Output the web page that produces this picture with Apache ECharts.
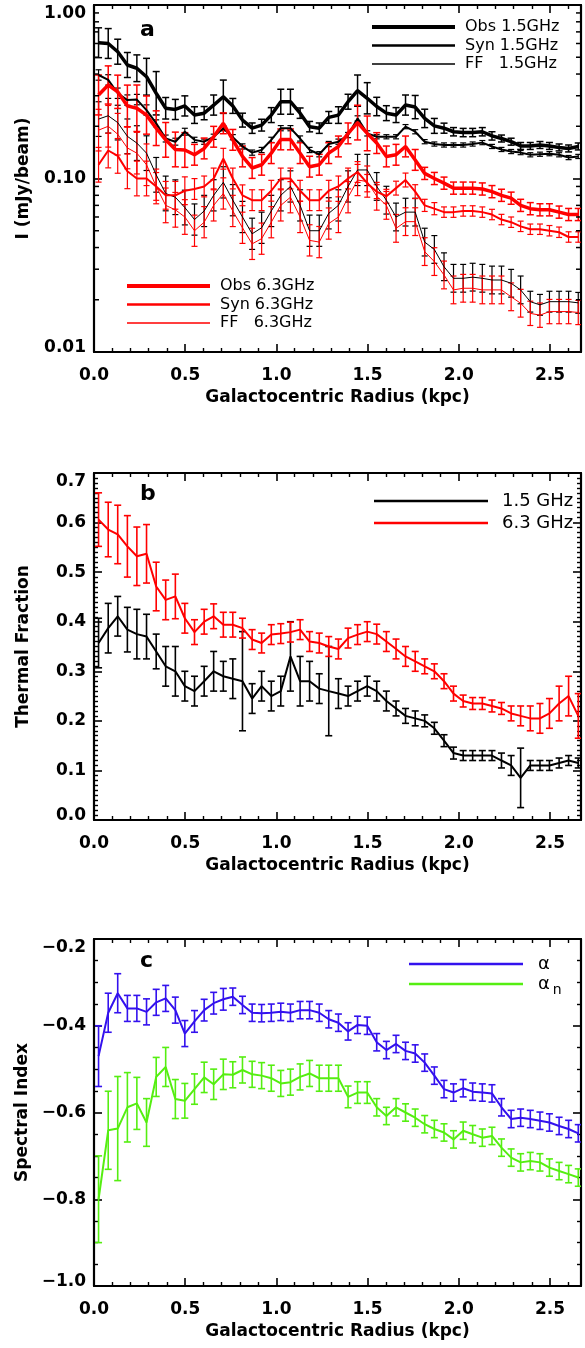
<!DOCTYPE html>
<html>
<head>
<meta charset="utf-8">
<title>Radial profiles</title>
<script src="https://cdn.jsdelivr.net/npm/echarts@6.0.0/dist/echarts.min.js"></script>
<style>
  html, body { margin: 0; padding: 0; background: #fff; }
  #chart { width: 585px; height: 1348px; }
</style>
</head>
<body>
<div id="chart"></div>
<script>
// galactocentric radius of each ring (kpc)
const radius = [0.025, 0.078, 0.130, 0.183, 0.235, 0.288, 0.341, 0.393, 0.446, 0.498,
  0.551, 0.604, 0.656, 0.709, 0.761, 0.814, 0.867, 0.919, 0.972, 1.024,
  1.077, 1.130, 1.182, 1.235, 1.287, 1.340, 1.393, 1.445, 1.498, 1.550,
  1.603, 1.656, 1.708, 1.761, 1.813, 1.866, 1.919, 1.971, 2.024, 2.076,
  2.129, 2.182, 2.234, 2.287, 2.339, 2.392, 2.445, 2.497, 2.550, 2.602, 2.655];

// panel a: intensities (mJy/beam)
const obs15 = [0.606, 0.600, 0.538, 0.451, 0.432, 0.386, 0.310, 0.254, 0.250, 0.262,
  0.232, 0.238, 0.265, 0.296, 0.262, 0.217, 0.195, 0.203, 0.232, 0.277,
  0.277, 0.238, 0.199, 0.195, 0.225, 0.232, 0.277, 0.321, 0.290, 0.260,
  0.238, 0.232, 0.265, 0.258, 0.222, 0.201, 0.195, 0.186, 0.184, 0.184,
  0.186, 0.176, 0.170, 0.163, 0.154, 0.154, 0.156, 0.154, 0.151, 0.149, 0.153];
const syn15 = [0.395, 0.370, 0.310, 0.283, 0.285, 0.248, 0.208, 0.170, 0.163, 0.186,
  0.167, 0.163, 0.174, 0.195, 0.173, 0.153, 0.141, 0.146, 0.167, 0.195,
  0.195, 0.170, 0.146, 0.138, 0.158, 0.163, 0.178, 0.222, 0.182, 0.174,
  0.174, 0.174, 0.199, 0.186, 0.163, 0.158, 0.156, 0.156, 0.156, 0.158,
  0.161, 0.153, 0.147, 0.143, 0.141, 0.137, 0.138, 0.139, 0.137, 0.132, 0.134];
const ff15 = [0.220, 0.230, 0.210, 0.175, 0.160, 0.140, 0.105, 0.082, 0.078, 0.068,
  0.058, 0.065, 0.080, 0.095, 0.075, 0.060, 0.048, 0.052, 0.065, 0.080,
  0.090, 0.070, 0.050, 0.050, 0.063, 0.070, 0.090, 0.112, 0.112, 0.090,
  0.075, 0.060, 0.064, 0.064, 0.043, 0.039, 0.031, 0.0266, 0.0266, 0.027,
  0.0266, 0.026, 0.026, 0.0249, 0.0228, 0.0195, 0.0187, 0.0195, 0.0195, 0.0195, 0.0192];
const obs63 = [0.303, 0.346, 0.316, 0.262, 0.254, 0.232, 0.195, 0.167, 0.147, 0.146,
  0.137, 0.149, 0.174, 0.208, 0.167, 0.134, 0.115, 0.120, 0.140, 0.168,
  0.168, 0.140, 0.117, 0.120, 0.140, 0.153, 0.182, 0.210, 0.182, 0.160,
  0.134, 0.137, 0.153, 0.128, 0.107, 0.100, 0.094, 0.088, 0.088, 0.088,
  0.087, 0.084, 0.080, 0.077, 0.070, 0.067, 0.066, 0.066, 0.064, 0.062, 0.062];
const syn63 = [0.120, 0.145, 0.135, 0.110, 0.100, 0.100, 0.090, 0.080, 0.080, 0.085,
  0.087, 0.090, 0.100, 0.130, 0.100, 0.080, 0.075, 0.075, 0.085, 0.100,
  0.100, 0.085, 0.075, 0.075, 0.085, 0.090, 0.100, 0.109, 0.094, 0.084,
  0.079, 0.088, 0.098, 0.084, 0.070, 0.067, 0.064, 0.064, 0.065, 0.065,
  0.064, 0.062, 0.058, 0.056, 0.053, 0.051, 0.051, 0.050, 0.049, 0.046, 0.046];
const ff63 = [0.190, 0.200, 0.180, 0.150, 0.140, 0.120, 0.090, 0.070, 0.066, 0.060,
  0.050, 0.056, 0.070, 0.082, 0.065, 0.052, 0.042, 0.045, 0.056, 0.070,
  0.078, 0.060, 0.044, 0.043, 0.055, 0.060, 0.078, 0.098, 0.096, 0.079,
  0.070, 0.0516, 0.0564, 0.0564, 0.0379, 0.0332, 0.0278, 0.0228, 0.0233, 0.0233,
  0.0228, 0.0228, 0.0228, 0.0208, 0.0191, 0.0167, 0.0163, 0.0171, 0.0171, 0.0171, 0.0169];
// panel a error bars, half width in dex
const obs15Err = [0.086, 0.086, 0.072, 0.072, 0.077, 0.106, 0.125, 0.062, 0.058, 0.058,
  0.048, 0.038, 0.058, 0.096, 0.043, 0.040, 0.030, 0.034, 0.043, 0.072,
  0.072, 0.030, 0.030, 0.030, 0.034, 0.048, 0.043, 0.090, 0.090, 0.053,
  0.043, 0.043, 0.058, 0.067, 0.053, 0.043, 0.029, 0.024, 0.024, 0.024,
  0.024, 0.024, 0.020, 0.020, 0.020, 0.020, 0.020, 0.020, 0.020, 0.020, 0.020];
const syn15Err = [0.030, 0.030, 0.030, 0.030, 0.030, 0.030, 0.020, 0.020, 0.020, 0.020,
  0.015, 0.015, 0.015, 0.015, 0.015, 0.015, 0.015, 0.015, 0.015, 0.015,
  0.015, 0.015, 0.015, 0.015, 0.015, 0.015, 0.015, 0.015, 0.015, 0.012,
  0.012, 0.012, 0.012, 0.012, 0.012, 0.012, 0.012, 0.012, 0.012, 0.012,
  0.012, 0.012, 0.012, 0.012, 0.012, 0.012, 0.012, 0.012, 0.012, 0.012, 0.012];
const ff15Err = [0.10, 0.10, 0.10, 0.10, 0.10, 0.10, 0.10, 0.10, 0.10, 0.10,
  0.09, 0.09, 0.09, 0.09, 0.09, 0.09, 0.09, 0.09, 0.09, 0.09,
  0.09, 0.09, 0.09, 0.09, 0.09, 0.09, 0.09, 0.09, 0.09, 0.08,
  0.08, 0.08, 0.08, 0.08, 0.08, 0.08, 0.08, 0.08, 0.08, 0.08,
  0.08, 0.08, 0.08, 0.08, 0.08, 0.06, 0.06, 0.06, 0.06, 0.06, 0.06];
const obs63Err = [0.115, 0.110, 0.096, 0.120, 0.134, 0.110, 0.100, 0.100, 0.100, 0.100,
  0.060, 0.060, 0.060, 0.060, 0.060, 0.060, 0.060, 0.060, 0.060, 0.060,
  0.060, 0.060, 0.060, 0.060, 0.060, 0.060, 0.060, 0.100, 0.100, 0.060,
  0.060, 0.060, 0.060, 0.060, 0.035, 0.035, 0.035, 0.035, 0.035, 0.035,
  0.035, 0.035, 0.035, 0.035, 0.035, 0.035, 0.035, 0.035, 0.035, 0.035, 0.035];
const syn63Err = [0.10, 0.10, 0.10, 0.10, 0.10, 0.10, 0.08, 0.08, 0.08, 0.08,
  0.06, 0.06, 0.06, 0.06, 0.06, 0.06, 0.06, 0.06, 0.06, 0.06,
  0.06, 0.06, 0.06, 0.06, 0.06, 0.06, 0.06, 0.06, 0.05, 0.04,
  0.04, 0.04, 0.04, 0.04, 0.035, 0.035, 0.03, 0.03, 0.03, 0.03,
  0.03, 0.03, 0.03, 0.03, 0.03, 0.03, 0.03, 0.03, 0.03, 0.03, 0.03];
const ff63Err = [0.12, 0.12, 0.12, 0.12, 0.12, 0.12, 0.10, 0.10, 0.10, 0.10,
  0.09, 0.09, 0.09, 0.09, 0.09, 0.09, 0.09, 0.09, 0.09, 0.09,
  0.09, 0.09, 0.09, 0.09, 0.09, 0.09, 0.09, 0.09, 0.09, 0.08,
  0.08, 0.08, 0.08, 0.08, 0.08, 0.08, 0.08, 0.08, 0.08, 0.08,
  0.08, 0.08, 0.08, 0.08, 0.08, 0.07, 0.07, 0.07, 0.07, 0.07, 0.07];

// panel b: thermal fraction
const tf15 = [0.357, 0.387, 0.411, 0.384, 0.375, 0.370, 0.340, 0.310, 0.300, 0.270,
  0.260, 0.280, 0.300, 0.290, 0.285, 0.280, 0.245, 0.270, 0.250, 0.260,
  0.330, 0.280, 0.280, 0.265, 0.260, 0.255, 0.250, 0.260, 0.270, 0.260,
  0.240, 0.225, 0.210, 0.205, 0.200, 0.185, 0.160, 0.135, 0.130, 0.130,
  0.130, 0.130, 0.120, 0.110, 0.085, 0.110, 0.110, 0.110, 0.115, 0.120, 0.115];
const tf63 = [0.606, 0.586, 0.576, 0.552, 0.532, 0.537, 0.471, 0.444, 0.451, 0.407,
  0.379, 0.400, 0.411, 0.394, 0.394, 0.387, 0.364, 0.357, 0.374, 0.376,
  0.379, 0.384, 0.360, 0.357, 0.350, 0.345, 0.367, 0.374, 0.380, 0.375,
  0.360, 0.345, 0.330, 0.320, 0.310, 0.300, 0.280, 0.255, 0.240, 0.235,
  0.235, 0.230, 0.225, 0.215, 0.210, 0.205, 0.205, 0.215, 0.235, 0.250, 0.210];
const tf15Err = [0.050, 0.050, 0.040, 0.045, 0.050, 0.045, 0.035, 0.040, 0.050, 0.030,
  0.030, 0.030, 0.040, 0.030, 0.040, 0.100, 0.030, 0.030, 0.030, 0.030,
  0.070, 0.050, 0.040, 0.030, 0.090, 0.030, 0.020, 0.020, 0.020, 0.020,
  0.020, 0.015, 0.015, 0.015, 0.012, 0.012, 0.012, 0.012, 0.010, 0.010,
  0.010, 0.010, 0.015, 0.020, 0.060, 0.010, 0.010, 0.010, 0.010, 0.010, 0.010];
const tf63Err = [0.054, 0.055, 0.059, 0.062, 0.059, 0.059, 0.049, 0.040, 0.045, 0.030,
  0.025, 0.025, 0.025, 0.025, 0.025, 0.020, 0.020, 0.020, 0.020, 0.020,
  0.020, 0.020, 0.020, 0.020, 0.020, 0.020, 0.020, 0.020, 0.020, 0.020,
  0.020, 0.020, 0.020, 0.020, 0.015, 0.015, 0.015, 0.015, 0.012, 0.012,
  0.012, 0.012, 0.012, 0.015, 0.020, 0.025, 0.030, 0.030, 0.035, 0.040, 0.045];

// panel c: spectral index
const alpha = [-0.470, -0.370, -0.325, -0.360, -0.360, -0.368, -0.346, -0.337, -0.364, -0.418,
  -0.390, -0.364, -0.348, -0.339, -0.333, -0.352, -0.370, -0.371, -0.370, -0.368,
  -0.370, -0.364, -0.364, -0.370, -0.385, -0.393, -0.413, -0.398, -0.400, -0.438,
  -0.456, -0.442, -0.458, -0.464, -0.485, -0.515, -0.546, -0.554, -0.544, -0.552,
  -0.554, -0.556, -0.588, -0.615, -0.612, -0.615, -0.619, -0.623, -0.631, -0.638, -0.648];
const alphaN = [-0.800, -0.641, -0.637, -0.588, -0.579, -0.623, -0.518, -0.495, -0.569, -0.573,
  -0.546, -0.519, -0.535, -0.512, -0.513, -0.502, -0.512, -0.515, -0.521, -0.533,
  -0.530, -0.518, -0.510, -0.521, -0.521, -0.521, -0.564, -0.554, -0.554, -0.588,
  -0.608, -0.588, -0.600, -0.612, -0.627, -0.638, -0.646, -0.662, -0.642, -0.650,
  -0.658, -0.654, -0.681, -0.704, -0.715, -0.712, -0.715, -0.727, -0.735, -0.742, -0.750];
const alphaErr = [0.070, 0.045, 0.045, 0.030, 0.030, 0.030, 0.030, 0.030, 0.030, 0.030,
  0.025, 0.025, 0.025, 0.025, 0.020, 0.020, 0.020, 0.020, 0.020, 0.020,
  0.020, 0.020, 0.020, 0.020, 0.020, 0.020, 0.020, 0.020, 0.020, 0.020,
  0.020, 0.020, 0.020, 0.020, 0.020, 0.020, 0.020, 0.020, 0.020, 0.020,
  0.020, 0.020, 0.020, 0.020, 0.020, 0.020, 0.020, 0.020, 0.020, 0.020, 0.020];
const alphaNErr = [0.100, 0.090, 0.120, 0.080, 0.060, 0.055, 0.045, 0.045, 0.045, 0.040,
  0.035, 0.035, 0.035, 0.035, 0.030, 0.030, 0.030, 0.030, 0.030, 0.030,
  0.030, 0.030, 0.030, 0.030, 0.030, 0.030, 0.025, 0.025, 0.025, 0.020,
  0.020, 0.020, 0.020, 0.020, 0.020, 0.020, 0.020, 0.020, 0.020, 0.020,
  0.020, 0.020, 0.020, 0.020, 0.020, 0.020, 0.020, 0.020, 0.020, 0.020, 0.020];

// minor tick values of the log axis in panel a
const logMinorTicks = [0.02, 0.03, 0.04, 0.05, 0.06, 0.07, 0.08, 0.09,
  0.2, 0.3, 0.4, 0.5, 0.6, 0.7, 0.8, 0.9];

const FONT = 'DejaVu Sans';
const X_MAX = 2.67;
const RED = '#ff0000';
const BLUE = '#3311ee';
const GREEN = '#55ee11';

function points(ys) {
    return radius.map(function (x, i) { return [x, ys[i]]; });
}
function linearBars(ys, errs) {
    return radius.map(function (x, i) { return [x, ys[i] - errs[i], ys[i] + errs[i]]; });
}
function logBars(ys, dex) {
    return radius.map(function (x, i) {
        const f = Math.pow(10, dex[i]);
        return [x, ys[i] / f, ys[i] * f];
    });
}

function errorBarRenderer(color, width, cap) {
    return function (params, api) {
        const x = api.value(0);
        const lo = api.coord([x, api.value(1)]);
        const hi = api.coord([x, api.value(2)]);
        const style = { stroke: color, lineWidth: width };
        return {
            type: 'group',
            children: [
                { type: 'line', shape: { x1: lo[0], y1: lo[1], x2: hi[0], y2: hi[1] }, style: style },
                { type: 'line', shape: { x1: lo[0] - cap, y1: lo[1], x2: lo[0] + cap, y2: lo[1] }, style: style },
                { type: 'line', shape: { x1: hi[0] - cap, y1: hi[1], x2: hi[0] + cap, y2: hi[1] }, style: style }
            ]
        };
    };
}

function lineSeries(name, grid, ys, color, width) {
    return {
        name: name, type: 'line', xAxisIndex: grid * 2, yAxisIndex: grid * 2,
        data: points(ys), symbol: 'none', smooth: false, silent: true,
        lineStyle: { color: color, width: width }, itemStyle: { color: color },
        z: 3, animation: false
    };
}

function barSeries(grid, bars, color, width, cap) {
    return {
        type: 'custom', xAxisIndex: grid * 2, yAxisIndex: grid * 2,
        data: bars, encode: { x: 0, y: [1, 2] },
        renderItem: errorBarRenderer(color, width, cap),
        silent: true, clip: true, z: 2, animation: false
    };
}

// short inward ticks on both vertical edges of panel a for the log minor values
const logMinorSeries = {
    type: 'custom', xAxisIndex: 0, yAxisIndex: 0,
    data: logMinorTicks.map(function (v) { return [0, v]; }),
    encode: { x: 0, y: 1 },
    renderItem: function (params, api) {
        const l = api.coord([0, api.value(1)]);
        const r = api.coord([X_MAX, api.value(1)]);
        const style = { stroke: '#000', lineWidth: 1.5 };
        return {
            type: 'group',
            children: [
                { type: 'line', shape: { x1: l[0], y1: l[1], x2: l[0] + 5, y2: l[1] }, style: style },
                { type: 'line', shape: { x1: r[0] - 5, y1: r[1], x2: r[0], y2: r[1] }, style: style }
            ]
        };
    },
    silent: true, z: 4, animation: false
};

const axisLine = { onZero: false, lineStyle: { color: '#000', width: 2.2 } };
const axisTick = { inside: true, length: 8, lineStyle: { color: '#000', width: 1.6 } };
const labelStyle = { color: '#000', fontFamily: FONT, fontSize: 17, fontWeight: 'bold' };
const nameStyle = { color: '#000', fontFamily: FONT, fontSize: 17, fontWeight: 'bold' };

const grids = [
    { left: 94, top: 5, width: 487, height: 347 },
    { left: 94, top: 473, width: 487, height: 347 },
    { left: 94, top: 939, width: 487, height: 347 }
];

function xAxes(grid) {
    const base = {
        type: 'value', gridIndex: grid, min: 0, max: X_MAX, interval: 0.5,
        axisLine: axisLine, axisTick: axisTick,
        minorTick: { show: true, splitNumber: 5, length: 4, lineStyle: { color: '#000', width: 1.4 } },
        splitLine: { show: false }, minorSplitLine: { show: false }
    };
    return [
        Object.assign({}, base, {
            position: 'bottom',
            name: 'Galactocentric Radius (kpc)', nameLocation: 'middle', nameGap: 37,
            nameTextStyle: nameStyle,
            axisLabel: Object.assign({ margin: 15, showMaxLabel: false,
                formatter: function (v) { return v.toFixed(1); } }, labelStyle)
        }),
        Object.assign({}, base, { position: 'top', axisLabel: { show: false } })
    ];
}

// y labels at the ends of an axis sit slightly inside the frame, as in the figure
function edgeLabels(min, max, toText) {
    return function (v) {
        const s = toText(v);
        if (Math.abs(v - max) < 1e-6 * Math.max(1, Math.abs(max))) return '{t|' + s + '}';
        if (Math.abs(v - min) < 1e-6 * Math.max(1, Math.abs(min))) return '{b|' + s + '}';
        return s;
    };
}

function yAxes(grid, opts, name, minorSplit) {
    const base = Object.assign({
        gridIndex: grid, axisLine: axisLine, axisTick: axisTick,
        minorTick: { show: minorSplit > 0, splitNumber: minorSplit || 5, length: 4,
            lineStyle: { color: '#000', width: 1.4 } },
        splitLine: { show: false }, minorSplitLine: { show: false }
    }, opts);
    return [
        Object.assign({}, base, {
            position: 'left', name: name, nameLocation: 'middle', nameGap: 62,
            nameTextStyle: nameStyle,
            axisLabel: Object.assign({
                margin: 8, formatter: edgeLabels(opts.min, opts.max, opts.fmt),
                rich: {
                    t: Object.assign({ padding: [18, 0, 0, 0] }, labelStyle),
                    b: Object.assign({ padding: [0, 0, 8, 0] }, labelStyle)
                }
            }, labelStyle)
        }),
        Object.assign({}, base, { position: 'right', axisLabel: { show: false } })
    ];
}

function minusFmt(digits) {
    return function (v) {
        const s = Math.abs(v).toFixed(digits);
        return v < -1e-9 ? '\u2212' + s : s;
    };
}

// legend icon: a horizontal bar of the given thickness inside a 100x12 box
function lineIcon(w) {
    const a = (6 - w / 2).toFixed(2);
    const b = (6 + w / 2).toFixed(2);
    return 'path://M0,0L0.01,0L0,0.01Z M100,12L99.99,12L100,11.99Z M0,' + a +
        'L100,' + a + 'L100,' + b + 'L0,' + b + 'Z';
}

function legendText(size, pad) {
    return { color: '#000', fontFamily: FONT, fontSize: size, lineHeight: size, padding: [0, 0, 0, pad] };
}

const option = {
    animation: false,
    backgroundColor: '#fff',
    grid: grids,
    xAxis: [].concat(xAxes(0), xAxes(1), xAxes(2)),
    yAxis: [].concat(
        yAxes(0, { type: 'log', logBase: 10, min: 0.01, max: 1, fmt: function (v) { return v.toFixed(2); } },
            'I (mJy/beam)', 0),
        yAxes(1, { type: 'value', min: 0, max: 0.7, interval: 0.1, fmt: minusFmt(1) },
            'Thermal Fraction', 10),
        yAxes(2, { type: 'value', min: -1.0, max: -0.2, interval: 0.2, fmt: minusFmt(1) },
            'Spectral Index', 4)
    ),
    legend: [
        {
            orient: 'vertical', left: 367, top: 14, itemWidth: 83, itemHeight: 12, itemGap: 2.5,
            symbolKeepAspect: false, textStyle: legendText(16, 5), selectedMode: false,
            data: [
                { name: 'Obs 1.5GHz', icon: lineIcon(4) },
                { name: 'Syn 1.5GHz', icon: lineIcon(2.6) },
                { name: 'FF   1.5GHz', icon: lineIcon(1.3) }
            ]
        },
        {
            orient: 'vertical', left: 122, top: 273, itemWidth: 83, itemHeight: 12, itemGap: 2.5,
            symbolKeepAspect: false, textStyle: legendText(16, 5), selectedMode: false,
            data: [
                { name: 'Obs 6.3GHz', icon: lineIcon(4) },
                { name: 'Syn 6.3GHz', icon: lineIcon(2.6) },
                { name: 'FF   6.3GHz', icon: lineIcon(1.3) }
            ]
        },
        {
            orient: 'vertical', left: 369, top: 487, itemWidth: 114, itemHeight: 12, itemGap: 4,
            symbolKeepAspect: false, textStyle: legendText(18, 9), selectedMode: false,
            data: [
                { name: '1.5 GHz', icon: lineIcon(2.4) },
                { name: '6.3 GHz', icon: lineIcon(2.4) }
            ]
        },
        {
            orient: 'vertical', left: 404, top: 950, itemWidth: 114, itemHeight: 12, itemGap: 2,
            symbolKeepAspect: false, selectedMode: false,
            textStyle: {
                color: '#000', fontFamily: FONT, fontSize: 18, lineHeight: 18, padding: [0, 0, 0, 10],
                rich: {
                    g: { fontFamily: FONT, fontSize: 18, color: '#000' },
                    s: { fontFamily: FONT, fontSize: 14, color: '#000', padding: [12, 0, 0, 3] }
                }
            },
            formatter: function (name) { return name === '\u03b1n' ? '{g|\u03b1}{s|n}' : '{g|\u03b1}'; },
            data: [
                { name: '\u03b1', icon: lineIcon(2.4) },
                { name: '\u03b1n', icon: lineIcon(2.4) }
            ]
        }
    ],
    graphic: [
        { type: 'text', left: 140, top: 19, style: { text: 'a', font: 'bold 22px "DejaVu Sans"', fill: '#000' } },
        { type: 'text', left: 140, top: 483, style: { text: 'b', font: 'bold 22px "DejaVu Sans"', fill: '#000' } },
        { type: 'text', left: 140, top: 950, style: { text: 'c', font: 'bold 22px "DejaVu Sans"', fill: '#000' } }
    ],
    series: [
        barSeries(0, logBars(obs15, obs15Err), '#000', 1.5, 3.5),
        barSeries(0, logBars(syn15, syn15Err), '#000', 1.2, 3),
        barSeries(0, logBars(ff15, ff15Err), '#000', 1.2, 3),
        barSeries(0, logBars(obs63, obs63Err), RED, 1.5, 3.5),
        barSeries(0, logBars(syn63, syn63Err), RED, 1.2, 3),
        barSeries(0, logBars(ff63, ff63Err), RED, 1.2, 3),
        lineSeries('Obs 1.5GHz', 0, obs15, '#000', 3.5),
        lineSeries('Syn 1.5GHz', 0, syn15, '#000', 2),
        lineSeries('FF   1.5GHz', 0, ff15, '#000', 1),
        lineSeries('Obs 6.3GHz', 0, obs63, RED, 3.5),
        lineSeries('Syn 6.3GHz', 0, syn63, RED, 2),
        lineSeries('FF   6.3GHz', 0, ff63, RED, 1),
        logMinorSeries,
        barSeries(1, linearBars(tf15, tf15Err), '#000', 1.6, 3.5),
        barSeries(1, linearBars(tf63, tf63Err), RED, 1.6, 3.5),
        lineSeries('1.5 GHz', 1, tf15, '#000', 2),
        lineSeries('6.3 GHz', 1, tf63, RED, 2),
        barSeries(2, linearBars(alpha, alphaErr), BLUE, 1.6, 3.5),
        barSeries(2, linearBars(alphaN, alphaNErr), GREEN, 1.6, 3.5),
        lineSeries('\u03b1', 2, alpha, BLUE, 2),
        lineSeries('\u03b1n', 2, alphaN, GREEN, 2)
    ]
};

const chart = echarts.init(document.getElementById('chart'), null, { renderer: 'canvas' });
chart.setOption(option);
</script>
</body>
</html>
